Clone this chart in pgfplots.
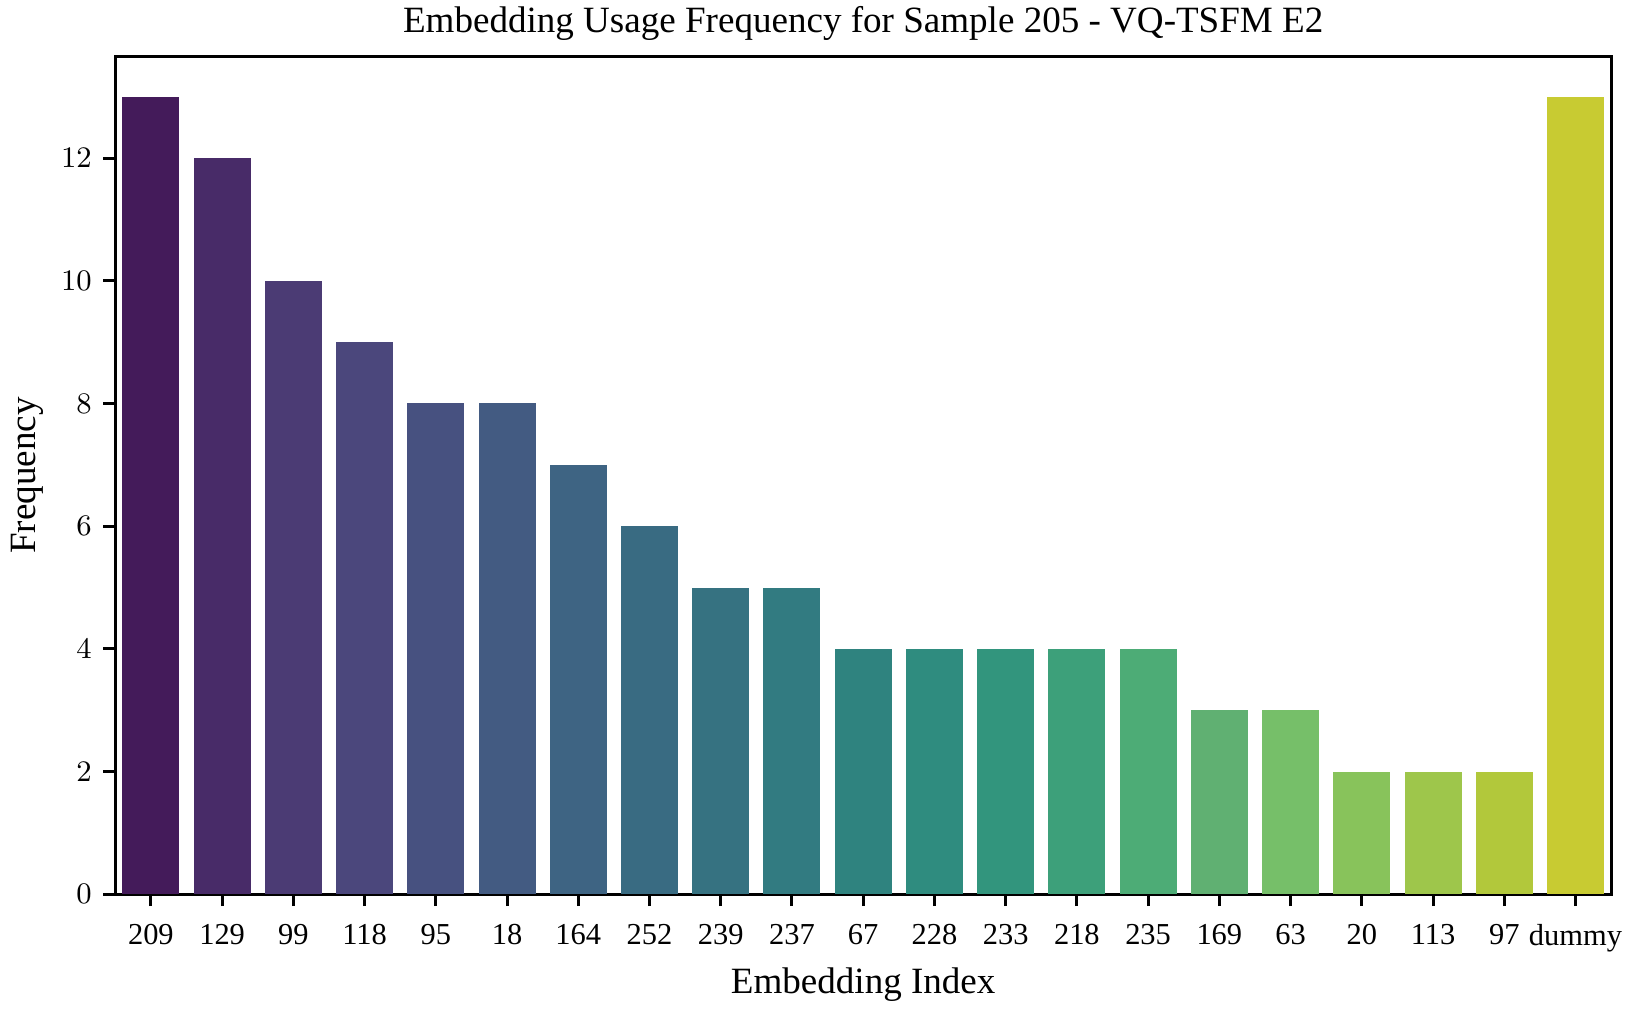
\documentclass[border=0pt]{standalone}
\usepackage{pgfplots}
\pgfplotsset{compat=1.18}
\usepackage[no-math]{fontspec}
\setmainfont{Liberation Serif}
\definecolor{c1}{RGB}{68,27,90}
\definecolor{c2}{RGB}{72,43,104}
\definecolor{c3}{RGB}{75,59,116}
\definecolor{c4}{RGB}{75,71,124}
\definecolor{c5}{RGB}{71,81,128}
\definecolor{c6}{RGB}{67,91,130}
\definecolor{c7}{RGB}{62,100,131}
\definecolor{c8}{RGB}{57,107,130}
\definecolor{c9}{RGB}{54,114,129}
\definecolor{c10}{RGB}{50,123,129}
\definecolor{c11}{RGB}{47,131,127}
\definecolor{c12}{RGB}{47,140,127}
\definecolor{c13}{RGB}{50,149,125}
\definecolor{c14}{RGB}{61,160,122}
\definecolor{c15}{RGB}{77,172,118}
\definecolor{c16}{RGB}{96,176,114}
\definecolor{c17}{RGB}{118,191,105}
\definecolor{c18}{RGB}{136,195,91}
\definecolor{c19}{RGB}{158,198,75}
\definecolor{c20}{RGB}{178,200,59}
\definecolor{c21}{RGB}{200,203,50}
\begin{document}
\begin{tikzpicture}
\begin{axis}[
  scale only axis,
  width=452pt, height=253pt,
  ybar, bar width=0.8, bar shift=0pt,
  xmin=-0.5, xmax=20.5,
  ymin=0, ymax=13.65,
  xtick={0,...,20},
  xticklabels={209,129,99,118,95,18,164,252,239,237,67,228,233,218,235,169,63,20,113,97,dummy},
  ytick={0,2,4,6,8,10,12},
  tick align=outside,
  xtick pos=bottom, ytick pos=left,
  major tick length=3.6pt,
  every tick/.style={black, line width=0.9pt},
  axis line style={black, line width=0.9pt},
  tick label style={font=\fontsize{9.2}{11}\selectfont},
  xticklabel style={yshift=-2pt},
  title={Embedding Usage Frequency for Sample 205 - VQ-TSFM E2},
  title style={font=\fontsize{11.2}{13}\selectfont, inner ysep=2pt, yshift=-3.3pt},
  xlabel={Embedding Index},
  ylabel={Frequency},
  label style={font=\fontsize{11.2}{13}\selectfont},
  xlabel style={yshift=2pt},
  ylabel style={yshift=-1.5pt},
  every axis plot/.append style={draw=none},
]
\addplot[fill=c1] coordinates {(0,13)};
\addplot[fill=c2] coordinates {(1,12)};
\addplot[fill=c3] coordinates {(2,10)};
\addplot[fill=c4] coordinates {(3,9)};
\addplot[fill=c5] coordinates {(4,8)};
\addplot[fill=c6] coordinates {(5,8)};
\addplot[fill=c7] coordinates {(6,7)};
\addplot[fill=c8] coordinates {(7,6)};
\addplot[fill=c9] coordinates {(8,5)};
\addplot[fill=c10] coordinates {(9,5)};
\addplot[fill=c11] coordinates {(10,4)};
\addplot[fill=c12] coordinates {(11,4)};
\addplot[fill=c13] coordinates {(12,4)};
\addplot[fill=c14] coordinates {(13,4)};
\addplot[fill=c15] coordinates {(14,4)};
\addplot[fill=c16] coordinates {(15,3)};
\addplot[fill=c17] coordinates {(16,3)};
\addplot[fill=c18] coordinates {(17,2)};
\addplot[fill=c19] coordinates {(18,2)};
\addplot[fill=c20] coordinates {(19,2)};
\addplot[fill=c21] coordinates {(20,13)};
\end{axis}
\end{tikzpicture}
\end{document}
